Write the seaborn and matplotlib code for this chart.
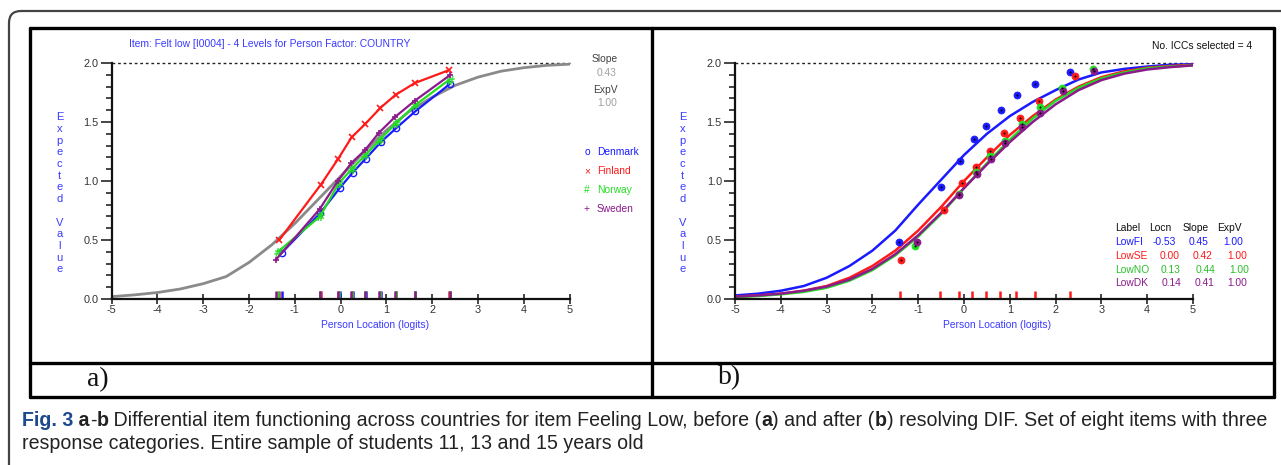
import matplotlib
matplotlib.use("Agg")
import matplotlib.pyplot as plt
import matplotlib.transforms as mtrans
import seaborn as sns
from matplotlib import font_manager
from matplotlib.lines import Line2D
from matplotlib.patches import FancyBboxPatch
from matplotlib.ticker import MultipleLocator

# ---------------- data: panel a (before resolving DIF) ----------------
grid_x = [-5, -4.5, -4, -3.5, -3, -2.5, -2, -1.5, -1, -0.5, 0,
          0.5, 1, 1.5, 2, 2.5, 3, 3.5, 4, 4.5, 5]
icc_all = [0.02, 0.035, 0.055, 0.085, 0.13, 0.19, 0.31, 0.46, 0.64, 0.84, 1.04,
           1.24, 1.43, 1.59, 1.71, 1.81, 1.88, 1.93, 1.96, 1.98, 1.99]

dk_x = [-1.29, -0.44, -0.02, 0.26, 0.55, 0.88, 1.22, 1.63, 2.38]
dk_y = [0.39, 0.73, 0.94, 1.07, 1.19, 1.33, 1.45, 1.59, 1.82]
fi_x = [-1.34, -0.43, -0.05, 0.24, 0.53, 0.87, 1.20, 1.62, 2.37]
fi_y = [0.50, 0.97, 1.19, 1.37, 1.48, 1.62, 1.73, 1.83, 1.94]
no_x = [-1.37, -0.45, -0.04, 0.24, 0.54, 0.86, 1.21, 1.62, 2.38]
no_y = [0.40, 0.70, 0.98, 1.10, 1.22, 1.35, 1.49, 1.64, 1.86]
sw_x = [-1.42, -0.46, -0.06, 0.23, 0.53, 0.84, 1.18, 1.62, 2.40]
sw_y = [0.33, 0.76, 1.00, 1.15, 1.26, 1.41, 1.54, 1.68, 1.90]

countries = ["Denmark", "Finland", "Norway", "Sweden"]
slope_a = "0.43"
expv_a = "1.00"

# ---------------- data: panel b (after resolving DIF) ----------------
icc_fi = [0.03, 0.045, 0.07, 0.11, 0.18, 0.28, 0.41, 0.58, 0.80, 1.01, 1.22,
          1.40, 1.55, 1.67, 1.77, 1.86, 1.92, 1.95, 1.97, 1.985, 1.99]
icc_se = [0.02, 0.03, 0.045, 0.07, 0.11, 0.18, 0.28, 0.41, 0.58, 0.78, 1.00,
          1.20, 1.39, 1.55, 1.69, 1.80, 1.88, 1.93, 1.96, 1.975, 1.985]
icc_no = [0.015, 0.025, 0.04, 0.06, 0.095, 0.155, 0.245, 0.37, 0.53, 0.72, 0.94,
          1.15, 1.35, 1.53, 1.68, 1.79, 1.87, 1.92, 1.955, 1.97, 1.98]
icc_dk = [0.02, 0.03, 0.045, 0.07, 0.105, 0.165, 0.255, 0.38, 0.54, 0.73, 0.94,
          1.14, 1.33, 1.50, 1.65, 1.77, 1.855, 1.91, 1.945, 1.965, 1.98]

fi2_x = [-1.41, -0.50, -0.09, 0.21, 0.49, 0.81, 1.15, 1.56, 2.32]
fi2_y = [0.48, 0.95, 1.17, 1.36, 1.47, 1.60, 1.73, 1.82, 1.92]
se2_x = [-1.38, -0.44, -0.04, 0.26, 0.57, 0.88, 1.23, 1.63, 2.43]
se2_y = [0.33, 0.75, 0.98, 1.12, 1.25, 1.41, 1.53, 1.68, 1.89]
no2_x = [-1.06, -0.11, 0.27, 0.57, 0.89, 1.26, 1.66, 2.13, 2.82]
no2_y = [0.45, 0.89, 1.08, 1.21, 1.34, 1.48, 1.63, 1.79, 1.95]
dk2_x = [-1.02, -0.12, 0.28, 0.58, 0.90, 1.27, 1.67, 2.17, 2.84]
dk2_y = [0.48, 0.88, 1.06, 1.19, 1.32, 1.46, 1.58, 1.76, 1.93]
ticks_b = [-1.40, -0.52, -0.12, 0.17, 0.47, 0.78, 1.14, 1.56, 2.32]

labels_b = ["LowFI", "LowSE", "LowNO", "LowDK"]
locn_b = ["-0.53", "0.00", "0.13", "0.14"]
slope_b = ["0.45", "0.42", "0.44", "0.41"]
expv_b = ["1.00", "1.00", "1.00", "1.00"]

x_ticks = [-5, -4, -3, -2, -1, 0, 1, 2, 3, 4, 5]
y_ticks = [0.0, 0.5, 1.0, 1.5, 2.0]

# ---------------- style ----------------
W, H = 1281, 465
sns.set_style("white")
avail = {f.name for f in font_manager.fontManager.ttflist}
if "Liberation Sans Narrow" in avail:
    NARROW, FS = "Liberation Sans Narrow", 8.6
else:
    NARROW, FS = "Liberation Sans", 7.4
plt.rcParams["font.family"] = [NARROW, "DejaVu Sans"]
plt.rcParams["axes.unicode_minus"] = False

BLUE, RED, GREEN, PURPLE = "#1a1aff", "#ff1a1a", "#22dd22", "#8b1a8b"
GRAY = "#8a8a8a"
TXT_BLUE = "#3a3aff"

fig = plt.figure(figsize=(W / 100, H / 100), dpi=100)


def ftext(x, y, s, **kw):
    kw.setdefault("fontsize", FS)
    kw.setdefault("va", "center")
    return fig.text(x / W, 1 - y / H, s, **kw)


def fline(x0, y0, x1, y1, **kw):
    fig.add_artist(Line2D([x0 / W, x1 / W], [1 - y0 / H, 1 - y1 / H],
                          transform=fig.transFigure, **kw))


def make_axes(x0, x1, ytop, ybot):
    ax = fig.add_axes([x0 / W, 1 - ybot / H, (x1 - x0) / W, (ybot - ytop) / H])
    ax.set_xlim(-5, 5)
    ax.set_ylim(0, 2)
    for s in ["top", "right"]:
        ax.spines[s].set_visible(False)
    for s in ["left", "bottom"]:
        ax.spines[s].set_linewidth(1.6)
        ax.spines[s].set_color("#111111")
    ax.set_xticks(x_ticks)
    ax.set_xticklabels([str(t) for t in x_ticks])
    ax.set_yticks(y_ticks)
    ax.set_yticklabels([f"{t:.1f}" for t in y_ticks])
    ax.yaxis.set_minor_locator(MultipleLocator(0.1))
    ax.tick_params(axis="y", which="major", direction="out", length=8, width=1.2,
                   labelsize=FS + 0.4, pad=1.5, labelcolor="#333333", left=True)
    ax.tick_params(axis="y", which="minor", direction="out", length=4, width=1.2, left=True)
    ax.tick_params(axis="x", direction="inout", length=7, width=1.2,
                   labelsize=FS + 0.4, pad=1, labelcolor="#333333", bottom=True)
    ax.set_xlabel("")
    ax.set_ylabel("")
    ax.plot([-5, 5], [2, 2], ls=(0, (2, 2)), color="#222222", lw=1, clip_on=False)
    ax.patch.set_alpha(0)
    return ax


# ---------------- panel a ----------------
axa = make_axes(111.7, 569.5, 63, 299)
sns.lineplot(x=grid_x, y=icc_all, ax=axa, color=GRAY, lw=2, sort=False)
series_a = [
    (dk_x, dk_y, BLUE, dict(marker="o", mfc="none", ms=4.5, mew=1)),
    (fi_x, fi_y, RED, dict(marker="x", ms=4.5, mew=1.2)),
    (no_x, no_y, GREEN, dict(marker="$\\#$", ms=6, mew=0.3)),
    (sw_x, sw_y, PURPLE, dict(marker="+", ms=5, mew=1.2)),
]
for xs, ys, c, mk in series_a:
    sns.lineplot(x=xs, y=ys, ax=axa, color=c, lw=1.6, sort=False, clip_on=False,
                 mec=c, **mk)
for xs, ys, c, mk in series_a:
    axa.vlines(xs, 0, 0.065, color=c, lw=1.8)

ftext(270, 44, "Item: Felt low [I0004] - 4 Levels for Person Factor: COUNTRY",
      color=TXT_BLUE, ha="center")
ftext(605, 59, "Slope", color="#444444", ha="center")
ftext(607, 73, slope_a, color="#a0a0a0", ha="center")
ftext(605, 90, "ExpV", color="#444444", ha="center")
ftext(607, 103, expv_a, color="#a0a0a0", ha="center")
leg_sym = ["o", "\u00d7", "#", "+"]
leg_col = [BLUE, RED, GREEN, PURPLE]
for i, (name, sym, c) in enumerate(zip(countries, leg_sym, leg_col)):
    y = 152 + i * 19
    ftext(587, y, sym, color=c, ha="center")
    ftext(597, y, name, color=c, ha="left")

# ---------------- panel b ----------------
axb = make_axes(735, 1193, 63, 299)
curves_b = [(icc_fi, BLUE), (icc_se, RED), (icc_no, GREEN), (icc_dk, PURPLE)]
for ys, c in curves_b:
    sns.lineplot(x=grid_x, y=ys, ax=axb, color=c, lw=1.8, sort=False)
pts_b = [(fi2_x, fi2_y, BLUE), (se2_x, se2_y, RED), (no2_x, no2_y, GREEN), (dk2_x, dk2_y, PURPLE)]
for xs, ys, c in pts_b:
    sns.scatterplot(x=xs, y=ys, ax=axb, color=c, s=26, edgecolor=c, linewidth=0.5,
                    zorder=4, clip_on=False)
    sns.scatterplot(x=xs, y=ys, ax=axb, color="black", s=2, linewidth=0, zorder=5,
                    clip_on=False)
axb.vlines(ticks_b, 0, 0.065, color=RED, lw=1.8)

ftext(1152, 46, "No. ICCs selected = 4", color="#111111", ha="left")
hdr = [("Label", 1115), ("Locn", 1149), ("Slope", 1183), ("ExpV", 1217)]
for s, x in hdr:
    ftext(x, 227.5, s, color="#111111", ha="left")
row_y = [242, 256, 270, 283.5]
row_col = [BLUE, RED, "#2bbf2b", PURPLE]
col_locn = [1153, 1160, 1161, 1162]
col_slope = [1189, 1193, 1196, 1195]
col_expv = [1223, 1227, 1229, 1227]
for i in range(4):
    c = row_col[i]
    ftext(1115, row_y[i], labels_b[i], color=c, ha="left")
    ftext(col_locn[i], row_y[i], locn_b[i], color=c, ha="left")
    ftext(col_slope[i], row_y[i], slope_b[i], color=c, ha="left")
    ftext(col_expv[i], row_y[i], expv_b[i], color=c, ha="left")

# axis titles (stacked letters for y, as in the RUMM output)
ylab = "Expected Value"
for xl in (59.5, 682.7):
    for i, ch in enumerate(ylab):
        if ch != " ":
            ftext(xl, 117.3 + i * 11.7, ch, color=TXT_BLUE, ha="center", fontsize=FS + 0.6)
ftext(375.5, 325, "Person Location (logits)", color=TXT_BLUE, ha="center")
ftext(997, 325, "Person Location (logits)", color=TXT_BLUE, ha="center")

# ---------------- frame, table lines, panel letters ----------------
frame = FancyBboxPatch((9, -20), 1300, H - 11 + 20,
                       boxstyle="round,pad=0,rounding_size=12",
                       transform=mtrans.IdentityTransform(),
                       fc="none", ec="#444444", lw=1.6)
fig.add_artist(frame)
LW = 2.4
fline(30, 28, 1274, 28, color="k", lw=LW)
fline(30, 397, 1274, 397, color="k", lw=LW)
fline(30, 363, 1274, 363, color="k", lw=LW)
fline(30, 28, 30, 397, color="k", lw=LW)
fline(1274, 28, 1274, 397, color="k", lw=LW)
fline(652, 28, 652, 397, color="k", lw=LW)
ftext(98, 380, "a)", family="Liberation Serif", fontsize=20, ha="center", color="#111111")
ftext(730, 378, "b)", family="Liberation Serif", fontsize=20, ha="center", color="#111111")

# ---------------- caption ----------------
CAP_FONT = [NARROW, "DejaVu Sans"]
FIGBLUE = "#1d4a8c"
line1 = [("Fig. 3", "bold", FIGBLUE), (" a", "bold", "#222222"), ("-", "normal", "#222222"),
         ("b", "bold", "#222222"),
         (" Differential item functioning across countries for item Feeling Low, before (", "normal", "#222222"),
         ("a", "bold", "#222222"), (") and after (", "normal", "#222222"), ("b", "bold", "#222222"),
         (") resolving DIF. Set of eight items with three", "normal", "#222222")]
line2 = [("response categories. Entire sample of students 11, 13 and 15 years old", "normal", "#222222")]

renderer = fig.canvas.get_renderer()


def piece_width(s, size, weight):
    a = fig.text(0, 0, "|" + s + "|", fontsize=size, fontweight=weight, family=CAP_FONT)
    b = fig.text(0, 0, "||", fontsize=size, fontweight=weight, family=CAP_FONT)
    w = a.get_window_extent(renderer).width - b.get_window_extent(renderer).width
    a.remove()
    b.remove()
    return w


def draw_rich(pieces, x0, y, size):
    x = x0
    for s, wt, c in pieces:
        ftext(x, y, s, fontsize=size, fontweight=wt, color=c, ha="left", family=CAP_FONT)
        x += piece_width(s, size, wt)


base = 12
total = sum(piece_width(s, base, wt) for s, wt, c in line1)
cap_size = base * (1262 - 22) / total
draw_rich(line1, 22, 420, cap_size)
draw_rich(line2, 22, 443, cap_size)

fig.savefig("out.png", dpi=100)
